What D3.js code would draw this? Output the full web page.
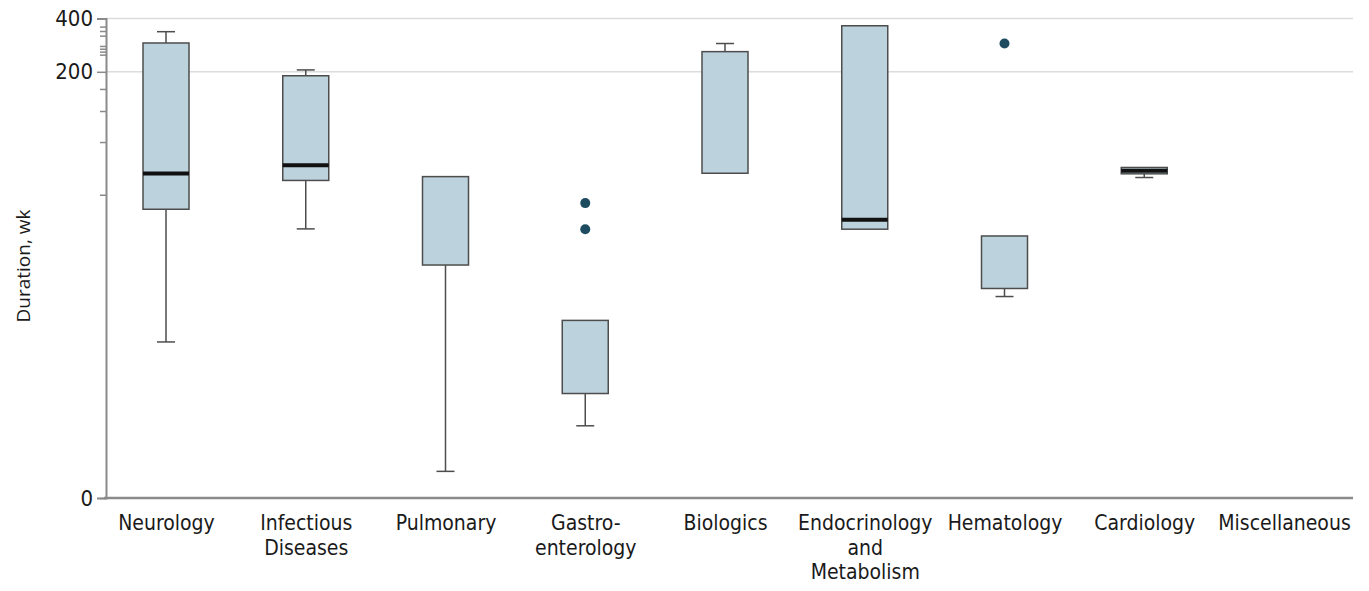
<!DOCTYPE html>
<html>
<head>
<meta charset="utf-8">
<script src="https://cdn.jsdelivr.net/npm/d3@7"></script>
<style>
  html, body { margin: 0; padding: 0; background: #fff; }
  svg { display: block; }
  .cond { font-family: "DejaVu Sans Condensed", "DejaVu Sans", sans-serif; font-stretch: condensed; fill: #1a1a1a; }
</style>
</head>
<body>
<svg id="chart" width="1369" height="591"></svg>
<script>
// ---- data ----
const categories = ["Neurology", "Infectious Diseases", "Pulmonary", "Gastroenterology", "Biologics",
  "Endocrinology and Metabolism", "Hematology", "Cardiology", "Miscellaneous"];
const categoryLabels = [["Neurology"], ["Infectious", "Diseases"], ["Pulmonary"], ["Gastro-", "enterology"],
  ["Biologics"], ["Endocrinology", "and", "Metabolism"], ["Hematology"], ["Cardiology"], ["Miscellaneous"]];
const whiskerLow  = [5.25, 25.4, 0.33, 1.24, null, null, 10.1, 50.2, null];
const q1          = [33,   48.3, 15.6, 2.3,  53.1, 25.3, 11.3, 52.7, null];
const median      = [53,   59,   null, null, null, 28.7, null, 54.8, null];
const q3          = [291,  190,  50.8, 7.2,  260,  364,  23.1, 57.3, null];
const whiskerHigh = [337,  205,  null, null, 289,  null, null, null, null];
const outliers    = [[], [], [], [35.8, 25.3], [], [], [289], [], []];
const majorTicks  = [0, 200, 400];
const minorTicks  = [40, 80, 120, 160, 250, 260, 270, 280, 320, 340, 360];
const gridValues  = [200, 400];
const yTitle = "Duration, wk";

// ---- layout ----
const svg = d3.select("#chart");
const plotLeft = 106, plotRight = 1353, plotTop = 18.5, plotBottom = 498;

const y = d3.scaleSymlog().constant(0.8).domain([0, 400]).range([plotBottom, plotTop]);
const x = d3.scalePoint().domain(categories).range([166, 1284]);
const boxW = 46, capW = 18;

// gridlines
svg.append("g").selectAll("line").data(gridValues).join("line")
  .attr("x1", plotLeft).attr("x2", plotRight)
  .attr("y1", d => y(d)).attr("y2", d => y(d))
  .attr("stroke", "#dcdcdc").attr("stroke-width", 1.5);

// y axis (major)
const yAxis = d3.axisLeft(y).tickValues(majorTicks).tickSize(9).tickPadding(4).tickFormat(d3.format("d"));
const gy = svg.append("g").attr("transform", `translate(${plotLeft},0)`).call(yAxis);
gy.select(".domain").attr("stroke", "#8a8a8a").attr("stroke-width", 2);
gy.selectAll(".tick line").attr("stroke", "#8a8a8a").attr("stroke-width", 1.5);
gy.selectAll(".tick text").attr("class", "cond").style("font-size", "22px").attr("fill", "#1a1a1a");
gy.selectAll(".tick").filter(d => d === 0).select("line").attr("x2", -6);

// y axis (minor)
const yMinor = d3.axisLeft(y).tickValues(minorTicks).tickSize(6).tickFormat("");
const gm = svg.append("g").attr("transform", `translate(${plotLeft},0)`).call(yMinor);
gm.select(".domain").remove();
gm.selectAll(".tick line").attr("stroke", "#8a8a8a").attr("stroke-width", 1.5);

// x axis
const gx = svg.append("g").attr("transform", `translate(0,${plotBottom})`)
  .call(d3.axisBottom(x).tickSize(0).tickFormat(""));
gx.select(".domain").attr("d", `M${plotLeft - 2},0H${plotRight}`).attr("stroke", "#8a8a8a").attr("stroke-width", 2.5);
gx.selectAll(".tick").each(function (d, i) {
  const t = d3.select(this).append("text").attr("class", "cond")
    .attr("text-anchor", "middle").style("font-size", "21px").attr("fill", "#1a1a1a");
  categoryLabels[i].forEach((line, j) => {
    t.append("tspan").attr("x", 0).attr("y", 32 + j * 24.5).text(line);
  });
});

// y title
svg.append("text")
  .attr("transform", `translate(30,266) rotate(-90)`)
  .attr("text-anchor", "middle")
  .style("font-family", "'Open Sans', sans-serif").style("font-size", "19px")
  .attr("fill", "#1a1a1a").text(yTitle);

// boxes
const rows = categories.map((c, i) => ({ c, lo: whiskerLow[i], q1: q1[i], med: median[i], q3: q3[i], hi: whiskerHigh[i], out: outliers[i] }));
const g = svg.append("g");
rows.forEach(r => {
  const cx = x(r.c);
  if (r.q1 == null) return;
  const stroke = "#4d4d4d";
  if (r.lo != null) {
    g.append("line").attr("x1", cx).attr("x2", cx).attr("y1", y(r.q1)).attr("y2", y(r.lo))
      .attr("stroke", stroke).attr("stroke-width", 1.5);
    g.append("line").attr("x1", cx - capW / 2).attr("x2", cx + capW / 2).attr("y1", y(r.lo)).attr("y2", y(r.lo))
      .attr("stroke", stroke).attr("stroke-width", 1.5);
  }
  if (r.hi != null) {
    g.append("line").attr("x1", cx).attr("x2", cx).attr("y1", y(r.q3)).attr("y2", y(r.hi))
      .attr("stroke", stroke).attr("stroke-width", 1.5);
    g.append("line").attr("x1", cx - capW / 2).attr("x2", cx + capW / 2).attr("y1", y(r.hi)).attr("y2", y(r.hi))
      .attr("stroke", stroke).attr("stroke-width", 1.5);
  }
  g.append("rect").attr("x", cx - boxW / 2).attr("width", boxW)
    .attr("y", y(r.q3)).attr("height", y(r.q1) - y(r.q3))
    .attr("fill", "#bcd2dc").attr("stroke", stroke).attr("stroke-width", 1.5);
  if (r.med != null) {
    g.append("line").attr("x1", cx - boxW / 2).attr("x2", cx + boxW / 2)
      .attr("y1", y(r.med)).attr("y2", y(r.med))
      .attr("stroke", "#111").attr("stroke-width", 4);
  }
  r.out.forEach(v => {
    g.append("circle").attr("cx", cx).attr("cy", y(v)).attr("r", 5).attr("fill", "#1d4c61");
  });
});
</script>
</body>
</html>
